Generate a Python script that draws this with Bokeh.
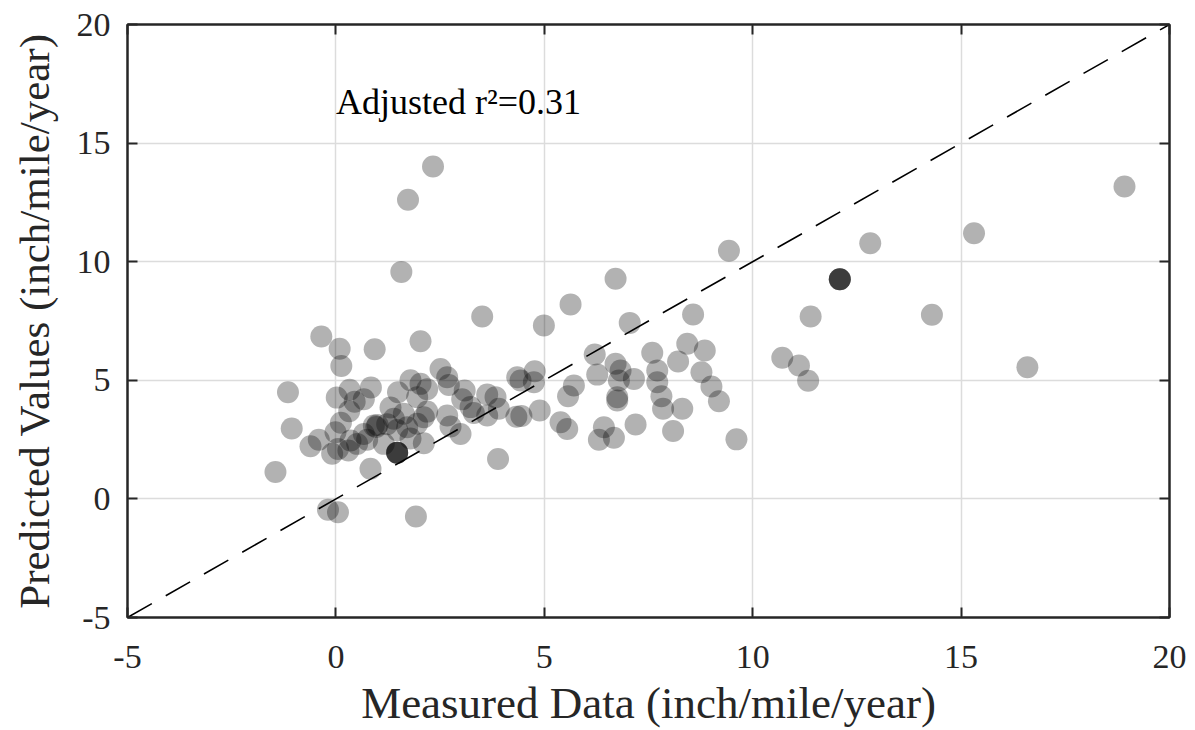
from bokeh.plotting import figure
from bokeh.models import (LinearAxis, Label, FixedTicker, ColumnDataSource,
                          CustomLabelingPolicy)
from bokeh.embed import file_html
from bokeh.resources import INLINE

# ---- data ----
measured = [
    -1.45, -1.15, -1.06, -0.35, -0.61, -0.41, -0.09, -0.19, -0.01,
    0.05, 0.09, 0.13, 0.93, 0.02, 0.33, 0.84, 0.45, 0.67, 0.32, 0.12,
    0.05, 0.30, 0.51, 0.67, 0.75, 0.83, 0.35, 0.91, 0.97, 1.00,
    1.57, 1.73, 2.33, 2.03, 1.31, 1.49, 1.79, 2.03, 2.19, 1.95,
    1.39, 1.63, 1.23, 1.47, 1.71, 1.95, 2.11, 2.19, 1.15, 1.79,
    2.11, 1.47, 1.47, 1.47, 1.47, 1.92,
    2.51, 2.67, 2.71, 3.09, 3.03, 2.67, 2.75, 2.99, 3.23, 3.31, 3.51,
    3.63, 3.83, 3.91, 3.63, 3.89, 4.35, 4.43, 4.77, 4.75, 4.33, 4.45,
    4.89, 4.99,
    5.63, 5.39, 5.55, 5.71, 5.57, 6.21, 6.71, 6.83, 6.27, 6.71, 7.05,
    7.15, 6.79, 6.75, 6.75, 6.31, 6.43, 6.67, 7.19, 7.59, 7.71, 7.71,
    7.81, 7.85, 8.09, 8.21, 8.31, 8.43, 8.57, 8.77, 8.85, 9.01, 9.19,
    9.43, 9.61,
    10.71, 11.11, 11.33, 11.39, 12.09, 12.09, 12.09, 12.09, 12.82,
    14.30, 15.31, 16.59, 18.92,
]
predicted = [
    1.13, 4.50, 2.97, 6.85, 2.22, 2.49, 1.90, -0.46, 2.81,
    -0.56, 6.33, 5.60, 6.31, 4.27, 4.60, 4.70, 4.10, 4.20, 3.70, 3.21,
    2.10, 2.04, 2.32, 2.74, 2.49, 1.27, 2.46, 3.09, 3.03, 3.12,
    9.57, 12.61, 14.01, 6.65, 3.85, 4.50, 5.00, 4.85, 4.62, 4.29,
    3.38, 3.59, 3.15, 2.90, 3.02, 3.17, 3.44, 3.68, 2.32, 2.55,
    2.35, 1.95, 1.95, 1.95, 1.95, -0.74,
    5.48, 5.13, 4.80, 4.57, 4.20, 3.52, 3.05, 2.74, 3.87, 3.62, 7.69,
    4.40, 4.29, 3.80, 3.52, 1.68, 5.13, 4.99, 5.38, 4.92, 3.46, 3.50,
    3.73, 7.31,
    8.20, 3.23, 2.95, 4.78, 4.33, 6.09, 5.70, 5.41, 5.24, 9.28, 7.42,
    5.06, 4.99, 4.29, 4.15, 2.49, 3.02, 2.58, 3.14, 6.16, 5.41, 4.92,
    4.33, 3.80, 2.86, 5.79, 3.80, 6.54, 7.77, 5.34, 6.26, 4.74, 4.12,
    10.46, 2.51,
    5.95, 5.62, 4.98, 7.69, 9.26, 9.26, 9.26, 9.26, 10.78,
    7.76, 11.20, 5.55, 13.17,
]
one_to_one = [-5, 20]
ticks = [-5, 0, 5, 10, 15, 20]
tick_labels = {t: str(t) for t in ticks}
x_label = "Measured Data (inch/mile/year)"
y_label = "Predicted Values (inch/mile/year)"
note = "Adjusted r\u00b2=0.31"

FONT = "Liberation Serif"
DARK = "#262626"

p = figure(width=1195, height=730, x_range=(-5, 20), y_range=(-5, 20),
           output_backend="svg", toolbar_location=None,
           min_border_left=127, min_border_right=26,
           min_border_top=24, min_border_bottom=113)
p.background_fill_color = "white"
p.border_fill_color = "white"
p.outline_line_color = DARK
p.outline_line_width = 2

for ax in p.axis:
    ax.ticker = FixedTicker(ticks=ticks)
    ax.major_label_overrides = tick_labels
    ax.major_tick_in = 10
    ax.major_tick_out = 0
    ax.minor_tick_line_color = None
    ax.axis_line_color = DARK
    ax.axis_line_width = 2
    ax.major_tick_line_color = DARK
    ax.major_tick_line_width = 2
    ax.major_label_text_font = FONT
    ax.major_label_text_font_size = "34px"
    ax.major_label_text_color = DARK
    ax.axis_label_text_font = FONT
    ax.axis_label_text_font_style = "normal"
    ax.axis_label_text_color = DARK

p.xaxis.axis_label = x_label
p.xaxis.axis_label_text_font_size = "45px"
p.xaxis.major_label_standoff = 28
p.xaxis.axis_label_standoff = 7

p.yaxis.axis_label = y_label
p.yaxis.axis_label_text_font_size = "43px"
p.yaxis.major_label_standoff = 17
p.yaxis.axis_label_standoff = 16

# inward ticks on the top and right frame edges (no labels)
no_labels = CustomLabelingPolicy(code="return new Set()")
for side in ("right", "above"):
    a = LinearAxis(ticker=FixedTicker(ticks=ticks), major_tick_in=10, major_tick_out=0,
                   minor_tick_line_color=None, axis_line_color=DARK, axis_line_width=2,
                   major_tick_line_color=DARK, major_tick_line_width=2,
                   major_label_policy=no_labels, major_label_standoff=0)
    p.add_layout(a, side)

p.grid.ticker = FixedTicker(ticks=ticks)
p.grid.grid_line_color = "#dcdcdc"
p.grid.grid_line_width = 1.5

src = ColumnDataSource(dict(x=measured, y=predicted))
p.scatter("x", "y", source=src, size=22, fill_color="black", fill_alpha=0.3,
          line_color=None)

p.line(one_to_one, one_to_one, line_color="black", line_width=1.6, line_dash="28 16")

p.add_layout(Label(x=0.0, y=16.75, text=note, text_font=FONT, text_font_size="36px",
                   text_color="black", text_baseline="alphabetic"))

open("out.html", "w").write(file_html(p, INLINE))
